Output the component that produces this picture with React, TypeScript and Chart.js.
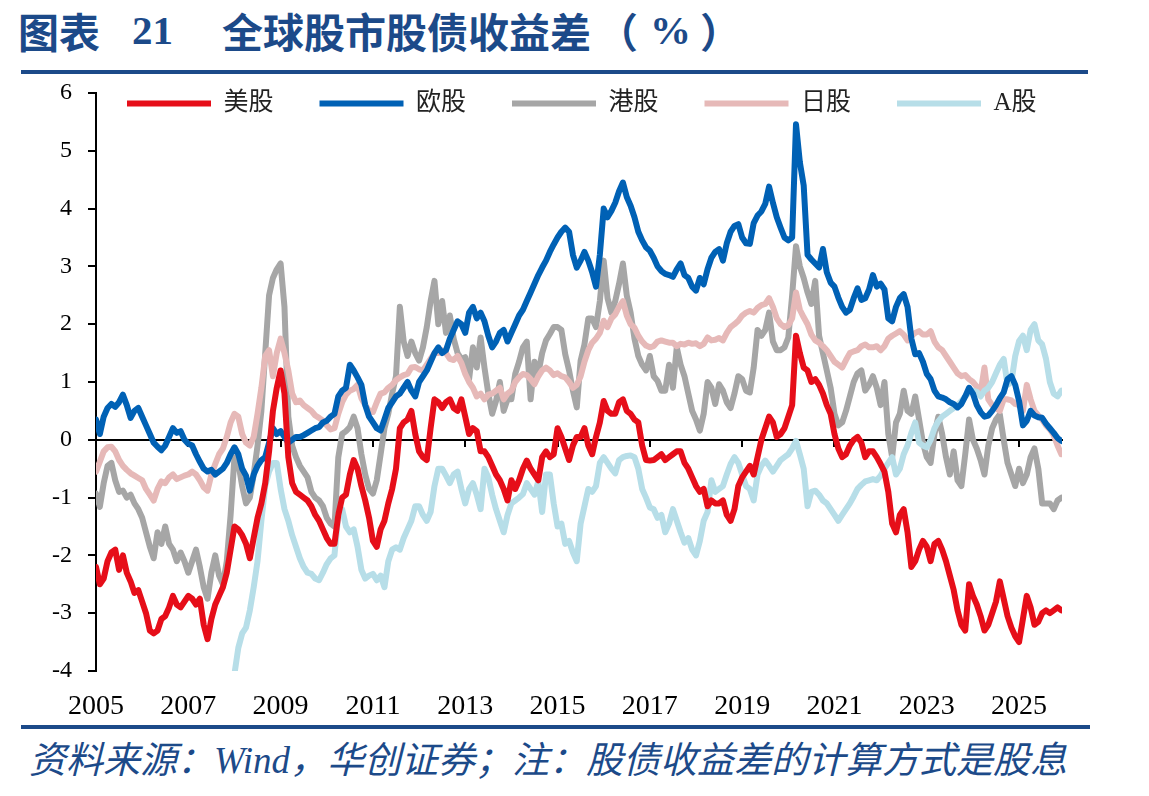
import React, { useEffect, useRef } from "react";
import { Chart, registerables } from "chart.js";

Chart.register(...registerables);

// Monthly equity-bond yield spread (%), starting January 2005
const START_YEAR = 2005;
const X_MAX = 20.93; // late 2025, in years after START_YEAR
const yearTicks = [2005, 2007, 2009, 2011, 2013, 2015, 2017, 2019, 2021, 2023, 2025];
const yTickValues = [-4, -3, -2, -1, 0, 1, 2, 3, 4, 5, 6];

const seriesLabels = ["美股", "欧股", "港股", "日股", "A股"];

const usSpread = [
  -2.2, -2.5, -2.4, -2.1, -1.95, -1.9, -2.25, -2.0, -2.3, -2.45, -2.65, -2.6,
  -2.8, -3.0, -3.3, -3.35, -3.3, -3.1, -3.05, -2.9, -2.7, -2.85, -2.9, -2.8,
  -2.7, -2.75, -2.85, -2.75, -3.2, -3.45, -3.1, -2.85, -2.7, -2.55, -2.3, -1.9,
  -1.5, -1.55, -1.65, -1.8, -2.05, -1.7, -1.35, -1.1, -0.75, -0.2, 0.5, 0.9,
  1.2, 0.8, -0.3, -0.75, -0.9, -0.95, -1.0, -1.05, -1.15, -1.3, -1.4, -1.55,
  -1.7, -1.8, -1.8, -1.3, -1.0, -0.95, -0.6, -0.35, -0.5, -0.8, -1.05, -1.35,
  -1.75, -1.85, -1.55, -1.4, -1.1, -0.85, -0.5, 0.2, 0.3, 0.35, 0.5, 0.1,
  -0.2, -0.3, -0.35, 0.2, 0.7, 0.65, 0.55, 0.65, 0.7, 0.55, 0.5, 0.7,
  0.4, 0.1, 0.2, 0.15, -0.2, -0.2, -0.3, -0.45, -0.6, -0.7, -0.85, -1.05,
  -0.7, -0.85, -0.7, -0.5, -0.36, -0.5, -0.6, -0.7, -0.3, -0.2, -0.3, -0.25,
  0.2, 0.05, -0.15, -0.35, -0.1, 0.05, 0.05, 0.2, -0.1, -0.25, 0.05, 0.3,
  0.67, 0.5, 0.45, 0.45, 0.65, 0.7, 0.5, 0.45, 0.35, 0.3, -0.1, -0.35,
  -0.36, -0.35, -0.3, -0.25, -0.35, -0.3, -0.25, -0.2, -0.2, -0.4, -0.5, -0.65,
  -0.8, -0.9, -0.85, -1.15, -1.05, -1.1, -1.1, -1.05, -1.3, -1.4, -1.2, -0.8,
  -0.65, -0.55, -0.45, -0.6, -0.3, 0.0, 0.2, 0.4, 0.3, 0.05, 0.1, 0.2,
  0.4, 0.6, 1.8, 1.5, 1.25, 1.2, 1.0, 1.05, 0.95, 0.8, 0.6, 0.45,
  0.1, -0.15, -0.3, -0.25, -0.1, 0.0, 0.05, -0.05, -0.3, -0.2, -0.2, -0.3,
  -0.42, -0.55, -0.9, -1.45, -1.6, -1.3, -1.2, -1.6, -2.2, -2.1, -1.9, -1.75,
  -1.85, -2.1, -1.8, -1.75, -1.9, -2.1, -2.35, -2.6, -2.95, -3.2, -3.3, -2.5,
  -2.7, -2.85, -3.05, -3.3, -3.2, -3.0, -2.8, -2.45, -2.75, -3.05, -3.25, -3.4,
  -3.5, -3.1, -2.7, -2.9, -3.2, -3.15, -3.0, -2.95, -3.0, -2.95, -2.9, -2.95,
];

const euSpread = [
  0.35, 0.1, 0.4, 0.55, 0.62, 0.57, 0.65, 0.78, 0.6, 0.38, 0.5, 0.55,
  0.4, 0.25, 0.1, -0.05, -0.12, -0.18, -0.1, 0.05, 0.2, 0.12, 0.15, 0.0,
  -0.07, -0.1, -0.25, -0.38, -0.5, -0.55, -0.52, -0.6, -0.55, -0.5, -0.4, -0.25,
  -0.13, -0.25, -0.5, -0.62, -0.88, -0.6, -0.45, -0.35, -0.3, -0.05, 0.2, 0.1,
  0.15, 0.05, -0.05, 0.0, 0.05, 0.05, 0.08, 0.12, 0.16, 0.2, 0.22, 0.3,
  0.33, 0.4, 0.45, 0.75, 0.85, 0.9, 1.3, 1.2, 1.08, 0.95, 0.6, 0.4,
  0.3, 0.2, 0.16, 0.35, 0.55, 0.65, 0.75, 0.8, 0.9, 1.0, 0.85, 0.75,
  1.0, 1.1, 1.2, 1.35, 1.5, 1.6, 1.5, 1.55, 1.75, 1.9, 2.05, 2.0,
  1.85, 2.2, 2.3, 2.1, 2.2, 2.05, 1.8, 1.6, 1.7, 1.85, 1.9, 1.7,
  1.85, 2.0, 2.15, 2.25, 2.4, 2.55, 2.7, 2.85, 2.98, 3.1, 3.25, 3.38,
  3.5, 3.6, 3.67, 3.6, 3.2, 2.98, 3.1, 3.25, 3.1, 2.9, 2.65, 3.2,
  4.0, 3.85, 3.96, 4.1, 4.3, 4.45, 4.2, 4.05, 3.85, 3.6, 3.45, 3.33,
  3.27, 3.15, 3.0, 2.92, 2.87, 2.85, 2.82, 2.95, 3.05, 2.85, 2.8, 2.65,
  2.58, 2.8, 2.69, 2.95, 3.15, 3.25, 3.3, 3.1, 3.4, 3.6, 3.7, 3.73,
  3.5, 3.4, 3.39, 3.75, 3.88, 3.95, 4.08, 4.38, 4.1, 3.85, 3.67, 3.5,
  3.45, 3.5, 5.46, 4.8, 4.4, 3.2, 3.12, 3.05, 2.98, 3.3, 2.9, 2.72,
  2.65, 2.46, 2.3, 2.2, 2.25, 2.45, 2.62, 2.42, 2.45, 2.6, 2.85, 2.65,
  2.7, 2.6, 2.1, 2.05, 2.3, 2.45, 2.52, 2.3, 1.75, 1.48, 1.5, 1.35,
  1.14, 1.05, 0.85, 0.75, 0.73, 0.7, 0.65, 0.62, 0.56, 0.62, 0.75, 0.9,
  0.8, 0.6, 0.48, 0.4, 0.42, 0.5, 0.6, 0.72, 0.82, 1.05, 1.1, 0.95,
  0.67, 0.25, 0.33, 0.5, 0.42, 0.39, 0.38, 0.28, 0.2, 0.12, 0.03, -0.02,
];

const hkSpread = [
  -0.93, -1.16, -0.75, -0.45, -0.4, -0.7, -0.9, -0.88, -1.0, -0.95, -1.1, -1.2,
  -1.35, -1.6, -1.85, -2.05, -1.6, -1.8, -1.5, -1.8, -1.9, -2.1, -1.95, -2.1,
  -2.3, -2.1, -1.9, -2.2, -2.55, -2.75, -2.3, -2.0, -2.35, -2.5, -2.1, -1.3,
  -0.3, -0.4, -0.8, -1.1, -1.0, -0.6, -0.1, 0.5, 1.5, 2.5, 2.8, 2.95,
  3.05, 2.3, 0.4, -0.1, -0.3, -0.45, -0.55, -0.65, -0.9, -1.0, -1.05, -1.15,
  -1.35, -1.45, -1.5, -0.3, 0.1, 0.15, 0.22, 0.4, 0.2, -0.25, -0.6, -0.85,
  -0.93, -0.7, -0.25, 0.2, 0.45, 0.8, 1.1, 2.3, 1.7, 1.45, 1.7, 1.5,
  1.37, 1.6, 1.95, 2.4, 2.75, 2.0, 2.4, 1.85, 2.15, 1.75, 1.5, 1.4,
  1.43, 1.05, 1.6, 1.25, 1.77, 1.25, 0.8, 0.45, 0.67, 1.0, 0.5, 0.7,
  0.7, 1.14, 1.35, 1.6, 1.7, 0.7, 1.35, 1.15, 1.5, 1.72, 1.83, 1.95,
  1.95, 1.9, 1.48, 1.2, 0.85, 0.56, 1.37, 1.65, 2.1, 2.1, 1.95, 2.4,
  3.1, 2.45, 2.2, 2.4, 2.7, 3.05, 2.5, 2.2, 1.75, 1.45, 1.3, 1.2,
  1.45, 1.1, 1.02, 0.85, 0.85, 1.3, 0.9, 1.6, 1.3, 1.1, 0.8, 0.5,
  0.35, 0.16, 0.45, 1.0, 0.9, 0.62, 0.96, 0.85, 0.65, 0.55, 0.8, 1.1,
  1.05, 0.85, 0.82, 1.25, 1.9, 1.8, 1.9, 2.2, 1.7, 1.55, 1.55, 1.6,
  1.77, 2.5, 3.35, 3.0, 2.8, 2.55, 2.35, 2.75, 1.8, 1.5, 1.2, 0.9,
  0.45, 0.25, 0.3, 0.5, 0.75, 1.0, 1.15, 1.2, 0.85, 0.95, 1.1, 0.9,
  0.6, 1.0, 0.1, -0.3, 0.3, 0.45, 0.85, 0.5, 0.45, 0.75, 0.35, -0.05,
  -0.3, -0.4, 0.1, 0.4, 0.1, -0.3, -0.6, -0.2, -0.7, -0.8, -0.25, 0.35,
  0.0, -0.15, -0.35, -0.6, -0.1, 0.2, 0.35, 0.44, 0.0, -0.4, -0.6, -0.8,
  -0.5, -0.75, -0.6, -0.3, -0.15, -0.5, -1.1, -1.1, -1.1, -1.2, -1.05, -1.0,
];

const jpSpread = [
  -0.55, -0.38, -0.2, -0.13, -0.12, -0.2, -0.35, -0.45, -0.52, -0.58, -0.62, -0.66,
  -0.7, -0.85, -0.95, -1.05, -0.85, -0.72, -0.75, -0.65, -0.6, -0.68, -0.65, -0.62,
  -0.6, -0.55, -0.6, -0.7, -0.82, -0.88, -0.6, -0.42, -0.25, -0.15, 0.05, 0.3,
  0.45, 0.4, 0.1, -0.05, -0.1, 0.05, 0.45, 0.9, 1.45, 1.55, 1.1, 1.5,
  1.75, 1.5, 1.2, 0.8, 0.65, 0.68, 0.6, 0.55, 0.5, 0.42, 0.38, 0.33,
  0.25, 0.18, 0.2, 0.45, 0.65, 0.78, 0.85, 0.88, 0.95, 0.72, 0.6, 0.5,
  0.48, 0.65, 0.8, 0.82, 0.9, 0.95, 1.03, 1.08, 1.12, 1.14, 1.25, 1.26,
  1.22, 1.2, 1.3, 1.4, 1.5, 1.5, 1.55, 1.5, 1.4, 1.38, 1.45, 1.33,
  1.14, 1.0, 0.9, 0.75, 0.8, 0.7, 0.78, 0.8, 0.85, 0.9, 0.7, 0.8,
  0.85, 1.0, 1.08, 1.14, 1.12, 1.05, 0.96, 1.1, 1.2, 1.25, 1.2, 1.12,
  1.15, 1.1, 1.08, 1.0, 0.9, 0.95, 1.1, 1.35, 1.55, 1.68, 1.75, 1.85,
  2.06, 1.95, 2.1, 2.17, 2.3, 2.4, 2.15, 2.0, 1.94, 1.8, 1.7, 1.63,
  1.6, 1.62, 1.7, 1.72, 1.7, 1.68, 1.68, 1.62, 1.66, 1.65, 1.68, 1.66,
  1.67, 1.62, 1.66, 1.77, 1.72, 1.73, 1.76, 1.72, 1.85, 1.95, 2.0, 2.06,
  2.15, 2.2, 2.23, 2.2, 2.28, 2.33, 2.35, 2.45, 2.3, 2.1, 2.0, 1.95,
  1.98, 2.1, 2.55, 2.25, 2.12, 2.0, 1.82, 1.72, 1.68, 1.62, 1.55, 1.45,
  1.35, 1.3, 1.25, 1.38, 1.5, 1.53, 1.55, 1.62, 1.65, 1.6, 1.6, 1.62,
  1.55, 1.62, 1.75, 1.8, 1.84, 1.88, 1.82, 1.72, 1.8, 1.85, 1.88, 1.82,
  1.82, 1.88, 1.7, 1.6, 1.55, 1.45, 1.35, 1.25, 1.15, 1.1, 1.12, 1.05,
  1.0, 0.92, 0.82, 1.25, 0.7, 0.6, 0.55, 0.5, 0.7, 0.7, 0.68, 0.62,
  0.6, 0.5, 0.95, 0.7, 0.5, 0.42, 0.35, 0.25, 0.18, 0.08, -0.1, -0.25,
];

// A-share series begins in January 2008 (36 months after the start)
const A_SHARE_START_MONTH = 36;
const aSpread = [
  -4.05, -3.6, -3.35, -3.25, -2.95, -2.55, -2.1, -1.4, -0.8, -0.55, -0.4, -0.4,
  -0.85, -1.2, -1.4, -1.65, -1.85, -2.05, -2.2, -2.3, -2.32, -2.4, -2.43, -2.3,
  -2.15, -2.05, -2.0, -1.3, -1.2, -1.5, -1.6, -1.55, -1.85, -2.25, -2.4, -2.35,
  -2.32, -2.43, -2.35, -2.55, -2.1, -1.9, -1.86, -1.9, -1.7, -1.55, -1.4, -1.15,
  -1.15, -1.3, -1.4, -1.25, -0.8, -0.5, -0.5, -0.62, -0.75, -0.6, -0.55, -0.85,
  -1.1, -0.85, -0.75, -0.95, -1.2, -0.5, -0.65, -0.95, -1.2, -1.4, -1.6, -1.3,
  -1.1, -1.05, -1.0, -0.94, -0.75, -0.85, -0.95, -0.72, -1.25, -0.6, -0.6, -1.1,
  -1.5, -1.45, -1.8, -1.75, -1.95, -2.1, -1.45, -1.15, -0.85, -0.9, -0.8, -0.4,
  -0.3, -0.4, -0.5, -0.58, -0.35, -0.3, -0.28, -0.27, -0.3, -0.5, -0.85, -1.0,
  -1.17, -1.2, -1.35, -1.3, -1.6, -1.45, -1.2, -1.4, -1.6, -1.78, -1.7, -1.9,
  -2.0, -1.75, -1.4, -1.25, -0.7, -0.9, -0.85, -0.8, -0.6, -0.42, -0.3, -0.4,
  -0.6, -0.8, -0.85, -1.05, -0.6, -0.45, -0.36, -0.45, -0.55, -0.45, -0.35, -0.3,
  -0.25, -0.15, -0.02, -0.25, -0.5, -1.15, -0.9, -0.88, -0.95, -1.05, -1.1, -1.2,
  -1.3, -1.4, -1.3, -1.2, -1.1, -0.98, -0.85, -0.78, -0.72, -0.7, -0.68, -0.7,
  -0.62, -0.5, -0.4, -0.3, -0.6, -0.5, -0.25, -0.1, 0.12, 0.3, -0.05, -0.1,
  -0.13, 0.0, 0.2, 0.32, 0.4, 0.45, 0.5, 0.55, 0.6, 0.67, 0.75, 0.82,
  0.85, 0.83, 0.75, 0.85, 0.9, 1.0, 1.15, 1.3, 1.4, 0.95, 1.0, 1.45,
  1.71, 1.8, 1.55, 1.9, 2.0, 1.72, 1.65, 1.4, 1.0, 0.8, 0.75, 0.85,
];

const seriesValues = [usSpread, euSpread, hkSpread, jpSpread, aSpread];
const seriesStartMonth = [0, 0, 0, 0, A_SHARE_START_MONTH];

// styling
const seriesColors = ["#E60E19", "#0061B5", "#A6A6A6", "#E6B9B8", "#B7DEE8"];
const seriesDrawOrder = [1, 2, 5, 4, 3]; // lower is drawn on top
const NAVY = "#1C4A89";
const SERIF = '"Liberation Serif", "Times New Roman", serif';
const SERIF_CJK = '"Liberation Serif", "Noto Sans CJK SC", serif';
const CJK = '"Noto Sans CJK SC", sans-serif';

const LEGEND_LEFT = 81;
const LEGEND_TOP = -31;
const LEGEND_BOTTOM = 70;

// Keeps the legend row inside the plot instead of reserving space above it
const legendInPlot = {
  id: "legendInPlot",
  beforeInit(chart: any) {
    const legend = chart.legend;
    if (!legend) return;
    const fit = legend.fit;
    legend.fit = function () {
      fit.call(this);
      this.height = 0;
    };
  },
  afterLayout(chart: any) {
    const legend = chart.legend;
    if (!legend) return;
    const w = legend.right - legend.left;
    legend.left = LEGEND_LEFT;
    legend.right = LEGEND_LEFT + w;
    legend.top = LEGEND_TOP;
    legend.bottom = LEGEND_BOTTOM;
    legend.width = w;
    legend.height = LEGEND_BOTTOM - LEGEND_TOP;
  },
};

export default function App() {
  const canvasRef = useRef<HTMLCanvasElement | null>(null);

  useEffect(() => {
    const canvas = canvasRef.current;
    if (!canvas) return;

    const datasets = seriesLabels.map((label, k) => ({
      label,
      data: seriesValues[k].map((v, i) => ({ x: (seriesStartMonth[k] + i) / 12, y: v })),
      borderColor: seriesColors[k],
      backgroundColor: seriesColors[k],
      borderWidth: 6,
      borderJoinStyle: "round" as const,
      borderCapStyle: "round" as const,
      pointRadius: 0,
      pointHoverRadius: 0,
      tension: 0,
      order: seriesDrawOrder[k],
      xAxisID: "x",
      yAxisID: "y",
    }));

    const chart = new Chart(canvas, {
      type: "line",
      data: { datasets },
      plugins: [legendInPlot],
      options: {
        animation: false,
        responsive: false,
        devicePixelRatio: 1,
        events: [],
        layout: { padding: { top: 17, right: 87, bottom: 0, left: 0 } },
        plugins: {
          tooltip: { enabled: false },
          title: { display: false },
          legend: {
            display: true,
            position: "top",
            align: "start",
            fullSize: true,
            labels: {
              usePointStyle: true,
              pointStyle: "line",
              pointStyleWidth: 84,
              padding: 46,
              color: "#222",
              font: { family: SERIF_CJK, size: 25 },
              sort: (a: any, b: any) => a.datasetIndex - b.datasetIndex,
            },
          },
        },
        scales: {
          x: {
            type: "linear",
            position: "bottom",
            min: 0,
            max: X_MAX,
            afterFit: (s: any) => {
              s.height = 60;
            },
            grid: { display: false, drawTicks: false },
            border: { display: false },
            afterBuildTicks: (s: any) => {
              s.ticks = yearTicks.map((y) => ({ value: y - START_YEAR }));
            },
            ticks: {
              autoSkip: false,
              maxRotation: 0,
              padding: 19,
              color: "#000",
              font: { family: SERIF, size: 28 },
              callback: (v: any) => String(START_YEAR + Math.round(Number(v))),
            },
          },
          x2: {
            type: "linear",
            position: { y: 0 } as any,
            min: 0,
            max: X_MAX,
            afterBuildTicks: (s: any) => {
              s.ticks = yearTicks.map((y) => ({ value: y - START_YEAR }));
            },
            grid: {
              display: true,
              drawOnChartArea: false,
              drawTicks: true,
              tickLength: 6,
              color: "#000",
              lineWidth: 2,
            },
            border: { display: true, color: "#000", width: 2 },
            ticks: { display: false },
          },
          y: {
            type: "linear",
            position: "left",
            min: -4,
            max: 6,
            afterFit: (s: any) => {
              s.width = 96;
              s.paddingTop = 0;
              s.paddingBottom = 0;
            },
            afterBuildTicks: (s: any) => {
              s.ticks = yTickValues.map((v) => ({ value: v }));
            },
            grid: {
              display: true,
              drawOnChartArea: false,
              drawTicks: true,
              tickLength: 8,
              color: "#000",
              lineWidth: 2,
            },
            border: { display: true, color: "#000", width: 2 },
            ticks: {
              padding: 16,
              color: "#000",
              font: { family: SERIF, size: 24 },
              callback: (v: any) => String(v),
            },
          },
        },
      } as any,
    });

    return () => chart.destroy();
  }, []);

  const titleStyle = {
    position: "absolute" as const,
    top: 8,
    fontWeight: 700,
    fontSize: 41,
    lineHeight: "44px",
    color: NAVY,
    whiteSpace: "nowrap" as const,
  };

  return (
    <div
      style={{
        position: "fixed",
        left: 0,
        top: 0,
        width: 1149,
        height: 796,
        background: "#fff",
        overflow: "hidden",
      }}
    >
      <span style={{ ...titleStyle, left: 18, fontFamily: CJK }}>图表</span>
      <span style={{ ...titleStyle, left: 132, fontFamily: SERIF }}>21</span>
      <span style={{ ...titleStyle, left: 222, fontFamily: CJK }}>全球股市股债收益差</span>
      <span style={{ ...titleStyle, left: 597, fontFamily: CJK }}>（</span>
      <span style={{ ...titleStyle, left: 650, fontFamily: SERIF }}>%</span>
      <span style={{ ...titleStyle, left: 700, fontFamily: CJK }}>）</span>
      <div
        style={{ position: "absolute", left: 21, top: 70, width: 1067, height: 4, background: NAVY }}
      />
      <canvas
        ref={canvasRef}
        width={1149}
        height={655}
        style={{ position: "absolute", left: 0, top: 76, width: 1149, height: 655 }}
      />
      <div
        style={{ position: "absolute", left: 21, top: 725, width: 1069, height: 4, background: NAVY }}
      />
      <div
        style={{
          position: "absolute",
          left: 29,
          top: 742,
          fontFamily: SERIF_CJK,
          fontStyle: "italic",
          fontSize: 37,
          lineHeight: "38px",
          color: NAVY,
          whiteSpace: "nowrap",
        }}
      >
        资料来源：Wind，华创证券；注：股债收益差的计算方式是股息
      </div>
    </div>
  );
}
